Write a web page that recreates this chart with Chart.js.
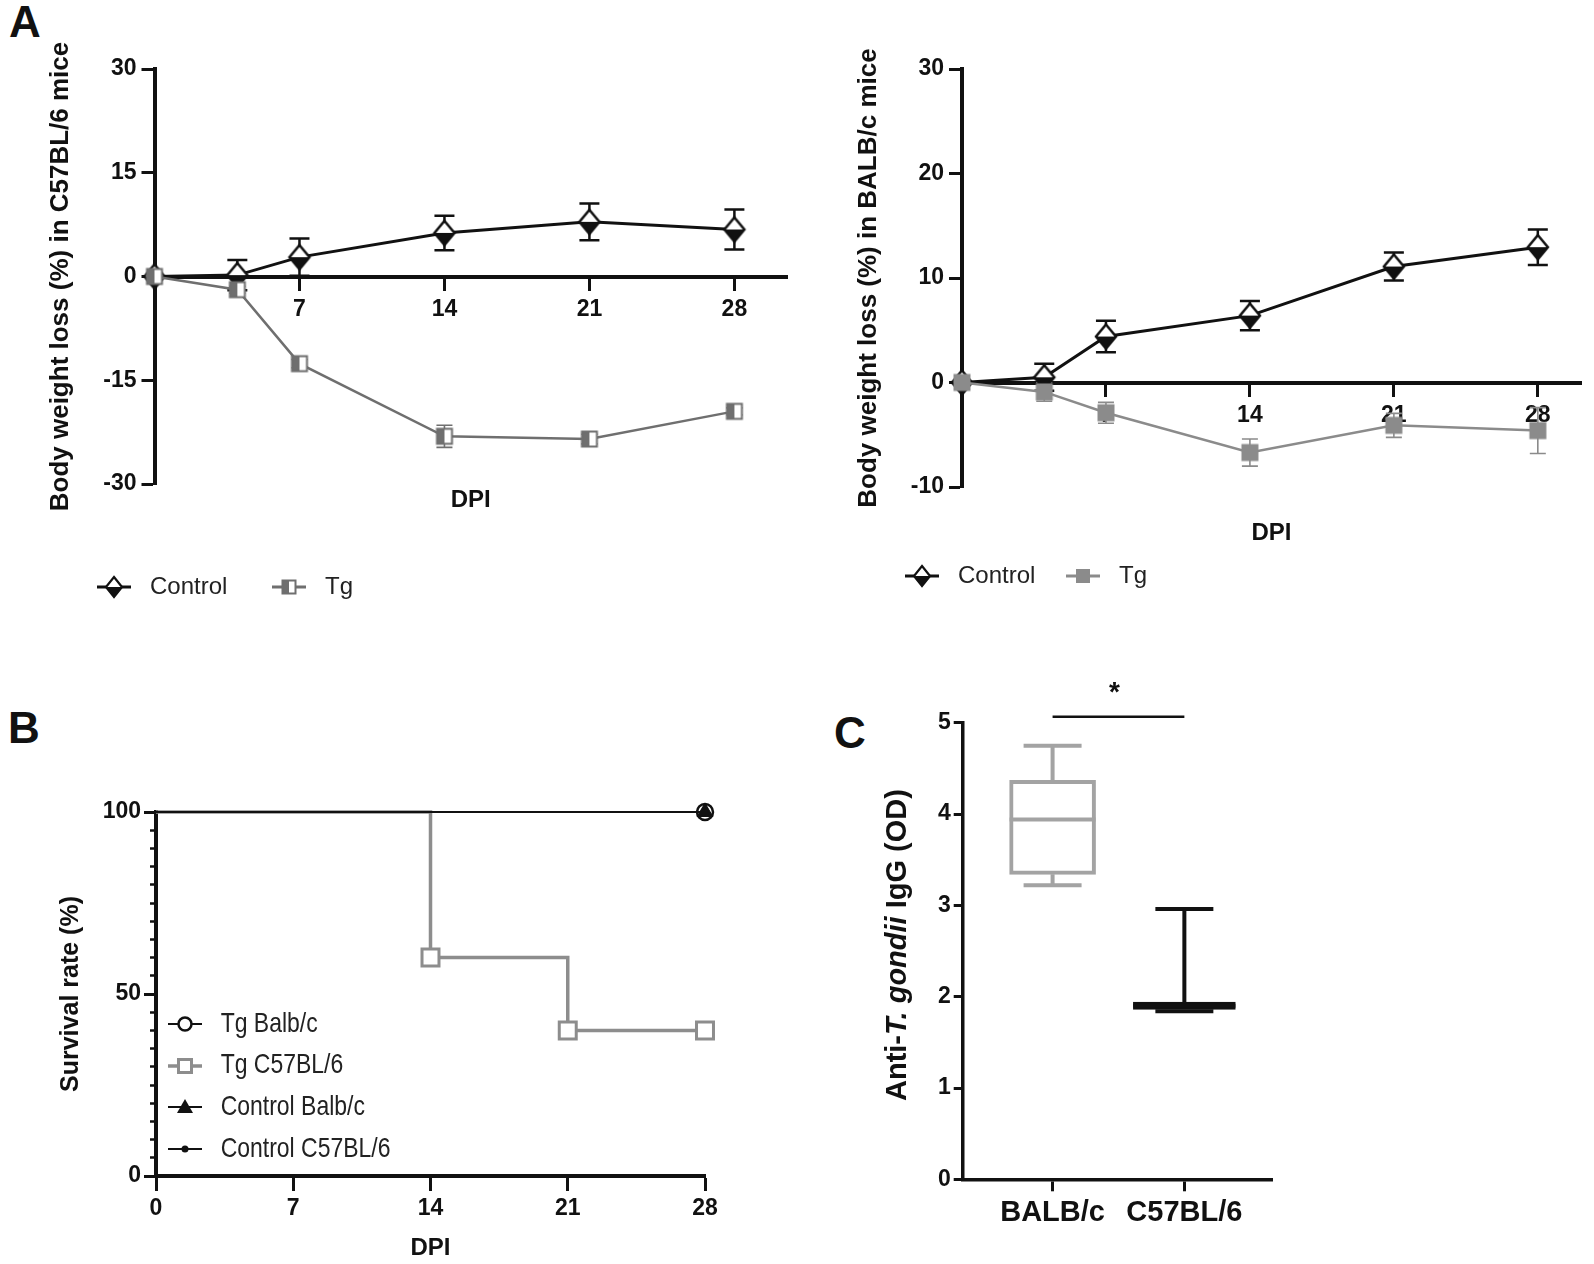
<!DOCTYPE html>
<html><head><meta charset="utf-8">
<script src="https://cdn.jsdelivr.net/npm/chart.js@4.4.1/dist/chart.umd.min.js"></script>
<style>
html,body{margin:0;padding:0;background:#fff;}
body{width:1594px;height:1264px;position:relative;overflow:hidden;}
canvas{position:absolute;}
.lt{position:absolute;font:bold 44px 'Liberation Sans',Arial,sans-serif;line-height:44px;color:#111;}
</style></head><body>
<div class="lt" style="left:9px;top:0px">A</div>
<div class="lt" style="left:8px;top:706px">B</div>
<div class="lt" style="left:834px;top:711px">C</div>
<canvas id="cA1" width="800" height="640" style="left:0;top:0"></canvas>
<canvas id="cA2" width="794" height="640" style="left:800px;top:0"></canvas>
<canvas id="cB" width="800" height="624" style="left:0;top:640px"></canvas>
<canvas id="cC" width="794" height="624" style="left:800px;top:640px"></canvas>
<script>
// ---------------- data ----------------
const daysA = [0, 4, 7, 14, 21, 28];
const xTicksA = [7, 14, 21, 28];
const ctrlC57 = [0, 0.2, 2.8, 6.3, 7.9, 6.8];
const ctrlC57Err = [0, 2.2, 2.7, 2.5, 2.65, 2.9];
const tgC57 = [0, -1.9, -12.6, -23.1, -23.5, -19.5];
const tgC57Err = [0, 0.5, 0.6, 1.6, 0.7, 0.5];
const ctrlBalb = [0, 0.5, 4.4, 6.4, 11.1, 12.95];
const ctrlBalbErr = [0, 1.3, 1.5, 1.4, 1.35, 1.7];
const tgBalb = [0, -0.9, -2.9, -6.7, -4.1, -4.6];
const tgBalbErr = [0, 0.9, 1.0, 1.3, 1.15, 2.2];

const survDays = [0, 28];
const survTgBalb = [100, 100];
const survTgC57Days = [0, 14, 21, 28];
const survTgC57 = [100, 60, 40, 40];
const survCtrlBalb = [100, 100];
const survCtrlC57 = [100, 100];

const groupsC = ['BALB/c', 'C57BL/6'];
const cMin = [3.22, 1.84];
const cQ1 = [3.34, 1.86];
const cMed = [3.94, 1.90];
const cQ3 = [4.37, 1.94];
const cMax = [4.75, 2.96];

// ---------------- styles ----------------
const BLACK = '#111111';
const GRAY_A1 = '#6f6f6f';
const GRAY_A2 = '#8b8b8b';
const GRAY_B = '#8d8d8d';
const GRAY_C = '#a3a3a3';
const BOX_COLORS = [GRAY_C, BLACK];
const BOX_WIDTHS = [86, 102];
const FONT = "'Liberation Sans', Arial, Helvetica, sans-serif";
Chart.defaults.font.family = FONT;
Chart.defaults.color = BLACK;

function hasFont(name) {
  const g = document.createElement('canvas').getContext('2d');
  const t = 'Control C57BL/6 mmmWWiil';
  g.font = '40px monospace'; const a = g.measureText(t).width;
  g.font = `40px "${name}", monospace`; const b = g.measureText(t).width;
  return Math.abs(a - b) > 0.5;
}
const NARROW = hasFont('Liberation Sans Narrow');
const LEG_FAMILY = NARROW ? "'Liberation Sans Narrow', " + FONT : FONT;
const LEG_SIZE = NARROW ? 28 : 24;
const LEG_B = 72 - LEG_SIZE;
function textW(t, size, family) {
  const g = document.createElement('canvas').getContext('2d');
  g.font = `${size}px ${family}`; return g.measureText(t).width;
}
function legendLayout(c1, c2, cy) {
  const f = LEG_SIZE, b = LEG_B;
  const w = textW('Control', f, LEG_FAMILY);
  const p = (c2 - c1) - b - f / 2 - w;
  const left = c1 - b / 2 - p;
  const top = cy - p - f / 2;
  return {left, p, top, bottom: top + f + p + 10};
}

// ---------------- marker images ----------------
function mkImg(w, h, draw) { const c = document.createElement('canvas'); c.width = w; c.height = h; draw(c.getContext('2d'), w, h); return c; }
function halfDiamond(g, cx, cy, hw, hh, lw) {
  g.beginPath(); g.moveTo(cx - hw, cy); g.lineTo(cx, cy - hh); g.lineTo(cx + hw, cy); g.closePath(); g.fillStyle = '#fff'; g.fill();
  g.beginPath(); g.moveTo(cx - hw, cy); g.lineTo(cx, cy + hh); g.lineTo(cx + hw, cy); g.closePath(); g.fillStyle = BLACK; g.fill();
  g.beginPath(); g.moveTo(cx, cy - hh); g.lineTo(cx + hw, cy); g.lineTo(cx, cy + hh); g.lineTo(cx - hw, cy); g.closePath();
  g.lineWidth = lw; g.strokeStyle = BLACK; g.stroke();
}
function halfSquare(g, cx, cy, s, col, lw) {
  g.fillStyle = '#fff'; g.fillRect(cx - s / 2, cy - s / 2, s, s);
  g.fillStyle = col; g.fillRect(cx - s / 2, cy - s / 2, s / 2, s);
  g.lineWidth = lw; g.strokeStyle = col; g.strokeRect(cx - s / 2, cy - s / 2, s, s);
}
function fullSquare(g, cx, cy, s, col) { g.fillStyle = col; g.fillRect(cx - s / 2, cy - s / 2, s, s); }
function legLine(g, w, h, col, lw) { g.strokeStyle = col; g.lineWidth = lw; g.beginPath(); g.moveTo(0, h / 2); g.lineTo(w, h / 2); g.stroke(); }

const imgCtrlPt = mkImg(26, 30, g => halfDiamond(g, 13, 15, 10, 12, 2.5));
const imgCtrlLeg = mkImg(34, 26, (g, w, h) => { legLine(g, w, h, BLACK, 3); halfDiamond(g, 17, 13, 8, 10, 2.2); });
const imgTgA1Pt = mkImg(20, 20, g => halfSquare(g, 10, 10, 15, GRAY_A1, 2));
const imgTgA1Leg = mkImg(34, 22, (g, w, h) => { legLine(g, w, h, GRAY_A1, 3); halfSquare(g, 17, 11, 13, GRAY_A1, 2); });
const imgTgA2Pt = mkImg(20, 20, g => fullSquare(g, 10, 10, 17, GRAY_A2));
const imgTgA2Leg = mkImg(34, 22, (g, w, h) => { legLine(g, w, h, GRAY_A2, 3); fullSquare(g, 17, 11, 14, GRAY_A2); });

const imgBLeg = [
  mkImg(34, 24, (g, w, h) => { legLine(g, w, h, BLACK, 2); g.beginPath(); g.arc(17, 12, 6.5, 0, 2 * Math.PI); g.fillStyle = '#fff'; g.fill(); g.lineWidth = 2.5; g.strokeStyle = BLACK; g.stroke(); }),
  mkImg(34, 24, (g, w, h) => { legLine(g, w, h, GRAY_B, 3.5); g.fillStyle = '#fff'; g.fillRect(10.5, 5.5, 13, 13); g.lineWidth = 3; g.strokeStyle = GRAY_B; g.strokeRect(10.5, 5.5, 13, 13); }),
  mkImg(34, 24, (g, w, h) => { legLine(g, w, h, BLACK, 2); g.beginPath(); g.moveTo(17, 4); g.lineTo(25, 18); g.lineTo(9, 18); g.closePath(); g.fillStyle = BLACK; g.fill(); }),
  mkImg(34, 24, (g, w, h) => { legLine(g, w, h, BLACK, 2); g.beginPath(); g.arc(17, 12, 3.5, 0, 2 * Math.PI); g.fillStyle = BLACK; g.fill(); })
];

// ---------------- plugins ----------------
const errorBarPlugin = {
  id: 'errorBars',
  beforeDatasetsDraw(chart) {
    const {ctx} = chart; const xs = chart.scales.x, ys = chart.scales.y;
    chart.data.datasets.forEach(ds => {
      const e = ds.errBar; if (!e) return;
      ctx.save(); ctx.strokeStyle = e.color; ctx.lineWidth = e.width;
      ds.data.forEach((p, j) => {
        const v = e.err[j]; if (!v) return;
        const x = xs.getPixelForValue(p.x), y1 = ys.getPixelForValue(p.y + v), y2 = ys.getPixelForValue(p.y - v);
        ctx.beginPath();
        ctx.moveTo(x, y1); ctx.lineTo(x, y2);
        ctx.moveTo(x - e.cap, y1); ctx.lineTo(x + e.cap, y1);
        ctx.moveTo(x - e.cap, y2); ctx.lineTo(x + e.cap, y2);
        ctx.stroke();
      });
      ctx.restore();
    });
  }
};
function genLabels(chart) {
  const items = Chart.defaults.plugins.legend.labels.generateLabels(chart);
  items.forEach(it => { const ds = chart.data.datasets[it.datasetIndex]; if (ds.legendImg) it.pointStyle = ds.legendImg; });
  return items;
}

// ---------------- panel A ----------------
function makeWeightChart(id, o) {
  const cv = document.getElementById(id);
  const L = legendLayout(o.c1, o.c2, o.cy);
  return new Chart(cv, {
    type: 'line',
    data: { datasets: [
      { label: 'Control', data: daysA.map((d, i) => ({x: d, y: o.ctrl[i]})), borderColor: BLACK, borderWidth: 3,
        pointStyle: imgCtrlPt, pointRadius: 10, clip: false, order: 2,
        errBar: {err: o.ctrlErr, color: BLACK, width: 2.5, cap: 10}, legendImg: imgCtrlLeg },
      { label: 'Tg', data: daysA.map((d, i) => ({x: d, y: o.tg[i]})), borderColor: o.tgColor, borderWidth: 2.5,
        pointStyle: o.tgPt, pointRadius: 10, clip: false, order: 1,
        errBar: {err: o.tgErr, color: o.tgColor, width: 1.6, cap: 8}, legendImg: o.tgLeg }
    ]},
    options: {
      responsive: false, animation: false, events: [],
      layout: { padding: { left: L.left, right: cv.width - o.right, top: o.top, bottom: cv.height - L.bottom } },
      plugins: {
        legend: { position: 'bottom', align: 'start',
          labels: { usePointStyle: true, pointStyleWidth: LEG_B, padding: L.p, color: '#222',
            font: {family: LEG_FAMILY, size: LEG_SIZE}, generateLabels: genLabels,
            sort: (a, b) => a.datasetIndex - b.datasetIndex } },
        tooltip: { enabled: false }
      },
      scales: {
        x: { type: 'linear', position: {y: 0}, min: 0, max: o.xmax,
          afterBuildTicks: s => { s.ticks = xTicksA.map(v => ({value: v})); },
          ticks: { font: {size: 23, weight: 'bold'}, color: BLACK, padding: 7, autoSkip: false, maxRotation: 0 },
          grid: { drawOnChartArea: false, tickLength: 12, tickWidth: 3, tickColor: BLACK },
          border: { color: BLACK, width: 4 } },
        x2: { type: 'linear', position: 'bottom', min: 0, max: o.xmax,
          ticks: { display: false }, grid: { display: false }, border: { display: false },
          title: { display: true, text: 'DPI', color: BLACK, font: {size: 24, weight: 'bold'},
            padding: {top: 0, bottom: (L.top - o.dpiY) - 14.4} },
          afterFit: s => { s.height = L.top - o.bottom; } },
        y: { type: 'linear', position: 'left', min: o.ymin, max: o.ymax,
          ticks: { stepSize: o.ystep, font: {size: 23, weight: 'bold'}, color: BLACK, padding: 5 },
          grid: { drawOnChartArea: false, tickLength: 13, tickWidth: 3, tickColor: BLACK },
          border: { color: BLACK, width: 4 },
          title: { display: true, text: o.ytitle, color: BLACK, font: {size: 26, weight: 'bold'},
            padding: {top: o.titleX - L.left - 15.6, bottom: 0} },
          afterFit: s => { s.width = o.axisX - L.left; } }
      }
    },
    plugins: [errorBarPlugin]
  });
}

makeWeightChart('cA1', {
  ctrl: ctrlC57, ctrlErr: ctrlC57Err, tg: tgC57, tgErr: tgC57Err,
  tgColor: GRAY_A1, tgPt: imgTgA1Pt, tgLeg: imgTgA1Leg,
  xmax: 30.54, ymin: -30, ymax: 30, ystep: 15,
  ytitle: 'Body weight loss (%) in C57BL/6 mice',
  axisX: 154.5, right: 792, top: 69, bottom: 484, dpiY: 500, titleX: 61,
  c1: 114, c2: 289, cy: 587
});
makeWeightChart('cA2', {
  ctrl: ctrlBalb, ctrlErr: ctrlBalbErr, tg: tgBalb, tgErr: tgBalbErr,
  tgColor: GRAY_A2, tgPt: imgTgA2Pt, tgLeg: imgTgA2Leg,
  xmax: 30.1, ymin: -10, ymax: 30, ystep: 10,
  ytitle: 'Body weight loss (%) in BALB/c mice',
  axisX: 162, right: 790, top: 69, bottom: 487, dpiY: 533.7, titleX: 69,
  c1: 122, c2: 283, cy: 576
});

// ---------------- panel B ----------------
const bLegendPlugin = {
  id: 'bLegend',
  afterDraw(chart) {
    const {ctx, chartArea} = chart;
    const ds = chart.data.datasets; const n = ds.length; const rowH = 41.7;
    const sx = NARROW ? 1 : 0.82;
    ctx.save();
    ctx.font = `28px ${LEG_FAMILY}`;
    ctx.fillStyle = '#222'; ctx.textBaseline = 'middle'; ctx.textAlign = 'left';
    ds.forEach((d, i) => {
      const cy = chartArea.bottom - (n - i) * rowH + 14.8;
      const img = d.legendImg;
      const cx = chartArea.left + 29;
      ctx.drawImage(img, Math.round(cx - img.width / 2), Math.round(cy - img.height / 2));
      const tx = chartArea.left + 64.7;
      ctx.save(); ctx.translate(tx, cy); ctx.scale(sx, 1); ctx.fillText(d.label, 0, 0); ctx.restore();
    });
    ctx.restore();
  }
};
new Chart(document.getElementById('cB'), {
  type: 'line',
  data: { datasets: [
    { label: 'Tg Balb/c', data: survDays.map((d, i) => ({x: d, y: survTgBalb[i]})), borderColor: BLACK, borderWidth: 1.8,
      pointStyle: 'circle', pointRadius: [0, 8], pointBorderWidth: 2.5, pointBackgroundColor: '#fff', pointBorderColor: BLACK,
      clip: false, order: 4, legendImg: imgBLeg[0] },
    { label: 'Tg C57BL/6', data: survTgC57Days.map((d, i) => ({x: d, y: survTgC57[i]})), stepped: 'before',
      borderColor: GRAY_B, borderWidth: 3.5,
      pointStyle: 'rect', pointRadius: [0, 12, 12, 12], pointBorderWidth: 3, pointBackgroundColor: '#fff', pointBorderColor: GRAY_B,
      clip: false, order: 5, legendImg: imgBLeg[1] },
    { label: 'Control Balb/c', data: survDays.map((d, i) => ({x: d, y: survCtrlBalb[i]})), borderColor: BLACK, borderWidth: 1.8,
      pointStyle: 'triangle', pointRadius: [0, 9], pointBorderWidth: 1, pointBackgroundColor: BLACK, pointBorderColor: BLACK,
      clip: false, order: 2, legendImg: imgBLeg[2] },
    { label: 'Control C57BL/6', data: survDays.map((d, i) => ({x: d, y: survCtrlC57[i]})), borderColor: BLACK, borderWidth: 1.8,
      pointStyle: 'circle', pointRadius: [0, 4], pointBorderWidth: 1, pointBackgroundColor: BLACK, pointBorderColor: BLACK,
      clip: false, order: 1, legendImg: imgBLeg[3] }
  ]},
  options: {
    responsive: false, animation: false, events: [],
    layout: { padding: { left: 56, right: 800 - 705, top: 172, bottom: 0 } },
    plugins: { legend: { display: false }, tooltip: { enabled: false } },
    scales: {
      x: { type: 'linear', position: 'bottom', min: 0, max: 28,
        ticks: { stepSize: 7, font: {size: 23, weight: 'bold'}, color: BLACK, padding: 4, maxRotation: 0 },
        grid: { drawOnChartArea: false, tickLength: 15, tickWidth: 3, tickColor: BLACK },
        border: { color: BLACK, width: 4 },
        title: { display: true, text: 'DPI', color: BLACK, font: {size: 24, weight: 'bold'}, padding: {top: 0, bottom: 1.6} },
        afterFit: s => { s.height = 624 - 536; } },
      y: { type: 'linear', position: 'left', min: 0, max: 100,
        ticks: { stepSize: 50, font: {size: 23, weight: 'bold'}, color: BLACK, padding: 3 },
        grid: { drawOnChartArea: false, tickLength: 12, tickWidth: 3, tickColor: BLACK },
        border: { color: BLACK, width: 4 },
        title: { display: true, text: 'Survival rate (%)', color: BLACK, font: {size: 25, weight: 'bold'}, padding: 0 },
        afterFit: s => { s.width = 100; } },
      yMinor: { type: 'linear', axis: 'y', position: {x: 0}, min: 0, max: 100,
        ticks: { stepSize: 5, display: false },
        grid: { drawOnChartArea: false, tickLength: 6, tickWidth: 2.5, tickColor: BLACK },
        border: { display: false } }
    }
  },
  plugins: [bLegendPlugin]
});

// ---------------- panel C ----------------
const boxPlugin = {
  id: 'boxExtras',
  beforeDatasetsDraw(chart) {
    const {ctx} = chart; const xs = chart.scales.x, ys = chart.scales.y;
    groupsC.forEach((g, i) => {
      const x = xs.getPixelForValue(i);
      const cap = (xs.getPixelForValue(i + 0.22) - xs.getPixelForValue(i - 0.22)) / 2;
      ctx.save(); ctx.strokeStyle = chart.data.datasets[i].borderColor; ctx.lineWidth = 4;
      ctx.beginPath();
      ctx.moveTo(x, ys.getPixelForValue(cQ3[i])); ctx.lineTo(x, ys.getPixelForValue(cMax[i]));
      ctx.moveTo(x - cap, ys.getPixelForValue(cMax[i])); ctx.lineTo(x + cap, ys.getPixelForValue(cMax[i]));
      ctx.moveTo(x, ys.getPixelForValue(cQ1[i])); ctx.lineTo(x, ys.getPixelForValue(cMin[i]));
      ctx.moveTo(x - cap, ys.getPixelForValue(cMin[i])); ctx.lineTo(x + cap, ys.getPixelForValue(cMin[i]));
      ctx.stroke(); ctx.restore();
    });
  },
  afterDatasetsDraw(chart) {
    const {ctx, chartArea} = chart; const xs = chart.scales.x, ys = chart.scales.y;
    groupsC.forEach((g, i) => {
      const bar = chart.getDatasetMeta(i).data[0];
      const x = xs.getPixelForValue(i); const hw = bar.width / 2;
      const y = ys.getPixelForValue(cMed[i]);
      ctx.save(); ctx.strokeStyle = chart.data.datasets[i].borderColor; ctx.lineWidth = 4;
      ctx.beginPath(); ctx.moveTo(x - hw, y); ctx.lineTo(x + hw, y); ctx.stroke(); ctx.restore();
    });
    // significance bar
    const yb = chartArea.top - 6;
    ctx.save(); ctx.strokeStyle = BLACK; ctx.lineWidth = 2.5;
    ctx.beginPath(); ctx.moveTo(xs.getPixelForValue(0), yb); ctx.lineTo(xs.getPixelForValue(1), yb); ctx.stroke();
    ctx.fillStyle = BLACK; ctx.font = `bold 28px ${FONT}`; ctx.textAlign = 'center'; ctx.textBaseline = 'middle';
    ctx.fillText('*', (xs.getPixelForValue(0) + xs.getPixelForValue(1)) / 2 - 4, yb - 24);
    ctx.restore();
    // y title with italic part
    const parts = [['Anti-', 'bold'], ['T. gondii', 'italic bold'], [' IgG (OD)', 'bold']];
    const size = 29;
    ctx.save();
    let total = 0;
    parts.forEach(p => { ctx.font = `${p[1]} ${size}px ${FONT}`; p.w = ctx.measureText(p[0]).width; total += p.w; });
    ctx.translate(chartArea.left - 64.7, (chartArea.top + chartArea.bottom) / 2 - 6);
    ctx.rotate(-Math.PI / 2);
    ctx.fillStyle = BLACK; ctx.textBaseline = 'middle'; ctx.textAlign = 'left';
    let xx = -total / 2;
    parts.forEach(p => { ctx.font = `${p[1]} ${size}px ${FONT}`; ctx.fillText(p[0], xx, 0); xx += p.w; });
    ctx.restore();
  }
};
new Chart(document.getElementById('cC'), {
  type: 'bar',
  data: { datasets: groupsC.map((g, i) => ({
    label: g,
    data: [{x: i, y: [cQ1[i], cQ3[i]]}],
    backgroundColor: '#ffffff', borderColor: BOX_COLORS[i], borderWidth: 4, borderSkipped: false,
    barThickness: BOX_WIDTHS[i], grouped: false
  }))},
  options: {
    responsive: false, animation: false, events: [],
    layout: { padding: { left: 100, right: 794 - 472.8, top: 82.8, bottom: 0 } },
    plugins: { legend: { display: false }, tooltip: { enabled: false } },
    scales: {
      x: { type: 'linear', offset: false, min: -0.682, max: 1.671,
        afterBuildTicks: s => { s.ticks = groupsC.map((g, i) => ({value: i})); },
        ticks: { callback: (v, i) => groupsC[i], font: {size: 29, weight: 'bold'}, color: BLACK, padding: 4, autoSkip: false, maxRotation: 0 },
        grid: { offset: false, drawOnChartArea: false, tickLength: 12, tickWidth: 3, tickColor: BLACK },
        border: { color: BLACK, width: 3.5 },
        afterFit: s => { s.height = 624 - 539.3; } },
      y: { type: 'linear', min: 0, max: 5,
        ticks: { stepSize: 1, font: {size: 23, weight: 'bold'}, color: BLACK, padding: 3 },
        grid: { drawOnChartArea: false, tickLength: 9, tickWidth: 3, tickColor: BLACK },
        border: { color: BLACK, width: 3.5 },
        afterFit: s => { s.width = 62.7; } }
    }
  },
  plugins: [boxPlugin]
});
</script>
</body></html>
